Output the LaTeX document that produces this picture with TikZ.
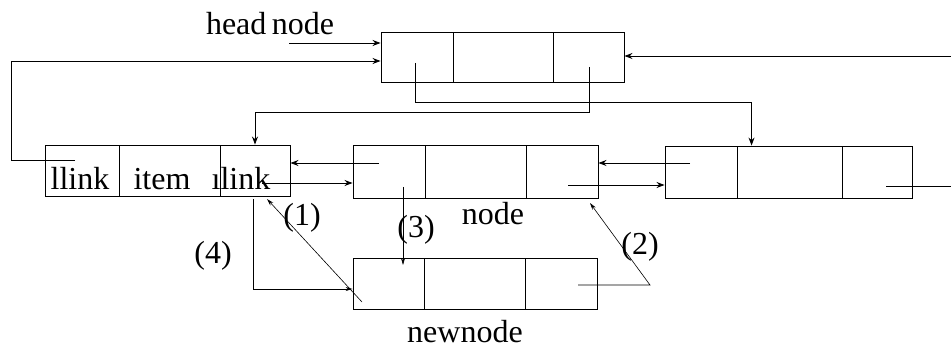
\documentclass[tikz,border=0pt]{standalone}
\usepackage{fontspec}
\setmainfont{Liberation Serif}
\usetikzlibrary{arrows.meta,calc}
\begin{document}
\begin{tikzpicture}[x=1pt,y=-1pt,
  line width=0.9pt,
  cell/.style={draw,line width=0.9pt,inner sep=0pt,minimum height=#1},
  txt/.style={inner sep=0pt,anchor=base,font=\fontsize{32}{36}\selectfont},
  arr/.style={-{Stealth[length=8pt,width=6pt]}},
  thin arr/.style={line width=0.6pt,-{Stealth[length=7pt,width=4pt]}}]
\useasboundingbox (0,0) rectangle (951,352);
% head node
\node[cell=50pt,minimum width=72pt]  (h1) at (417,57) {};
\node[cell=50pt,minimum width=100pt] (h2) at (503,57) {};
\node[cell=50pt,minimum width=71pt]  (h3) at (588.5,57) {};
% left node
\node[cell=51pt,minimum width=74pt]  (L1) at (82,170.5) {};
\node[cell=51pt,minimum width=101pt] (L2) at (169.5,170.5) {};
\node[cell=51pt,minimum width=70pt]  (L3) at (255,170.5) {};
% middle node
\node[cell=53pt,minimum width=72pt]  (M1) at (389,171.5) {};
\node[cell=53pt,minimum width=101pt] (M2) at (475.5,171.5) {};
\node[cell=53pt,minimum width=72pt]  (M3) at (562,171.5) {};
% right node
\node[cell=52pt,minimum width=72pt]  (R1) at (701,172) {};
\node[cell=52pt,minimum width=105pt] (R2) at (789.5,172) {};
\node[cell=52pt,minimum width=70pt]  (R3) at (877,172) {};
% new node
\node[cell=51pt,minimum width=71pt]  (N1) at (388.5,283.5) {};
\node[cell=51pt,minimum width=101pt] (N2) at (474.5,283.5) {};
\node[cell=51pt,minimum width=72pt]  (N3) at (561,283.5) {};
% texts
\node[txt] (thead) at (270,35) {head\,node};
\node[txt] (tll) at (80,190) {llink};
\node[txt] (tit) at (162,190) {item};
\node[txt] (trl) at (241,190) {ılink};
\node[txt] (tnode) at (493,225) {node};
\node[txt] (tnew) at (465,343) {newnode};
\node[txt] (t1) at (302,226) {(1)};
\node[txt] (t3) at (416,238) {(3)};
\node[txt] (t4) at (213,264) {(4)};
\node[txt] (t2) at (640,255) {(2)};
% free ends and bends
\coordinate (hn) at (289,43);
\coordinate (lp) at (75,160);
\coordinate (lpa) at (11,160);
\coordinate (lpb) at (11,61);
\coordinate (re) at (951,56);
\coordinate (hl) at (415,63);
\coordinate (hlb) at (415,102);
\coordinate (hr) at (589,67);
\coordinate (hrb) at (589,112);
\coordinate (m1) at (379,163);
\coordinate (l3) at (262,183);
\coordinate (r1) at (690,163);
\coordinate (m3) at (568,185);
\coordinate (r3) at (886,186);
\coordinate (r3e) at (951,186);
\coordinate (n1) at (362,302);
\coordinate (l3t) at (267,199);
\coordinate (m1s) at (403,187);
\coordinate (n1t) at (403,265);
\coordinate (l3s) at (253,199);
\coordinate (l3b) at (253,289);
\coordinate (n3) at (578,285);
\coordinate (n3b) at (650,285);
\coordinate (m3t) at (590,203);
% connectors
\draw[arr] (hn) -- (hn -| h1.west);
\draw[arr] (lp) -- (lpa) -- (lpb) -- (lpb -| h1.west);
\draw[arr] (re) -- (re -| h3.east);
\draw[arr] (hl) -- (hlb) -| ($(R2.north west)+(15,0)$);
\draw[arr] (hr) -- (hrb) -| (L3.north);
\draw[arr] (m1) -- (m1 -| L3.east);
\draw[arr] (l3) -- (l3 -| M1.west);
\draw[arr] (r1) -- (r1 -| M3.east);
\draw[arr] (m3) -- (m3 -| R1.west);
\draw (r3) -- (r3e);
\draw[thin arr] (n1) -- (l3t);
\draw[thin arr] (m1s) -- (n1t);
\draw[thin arr] (l3s) -- (l3b) -- (l3b -| N1.west);
\draw[thin arr] (n3) -- (n3b) -- (m3t);
\end{tikzpicture}
\end{document}
